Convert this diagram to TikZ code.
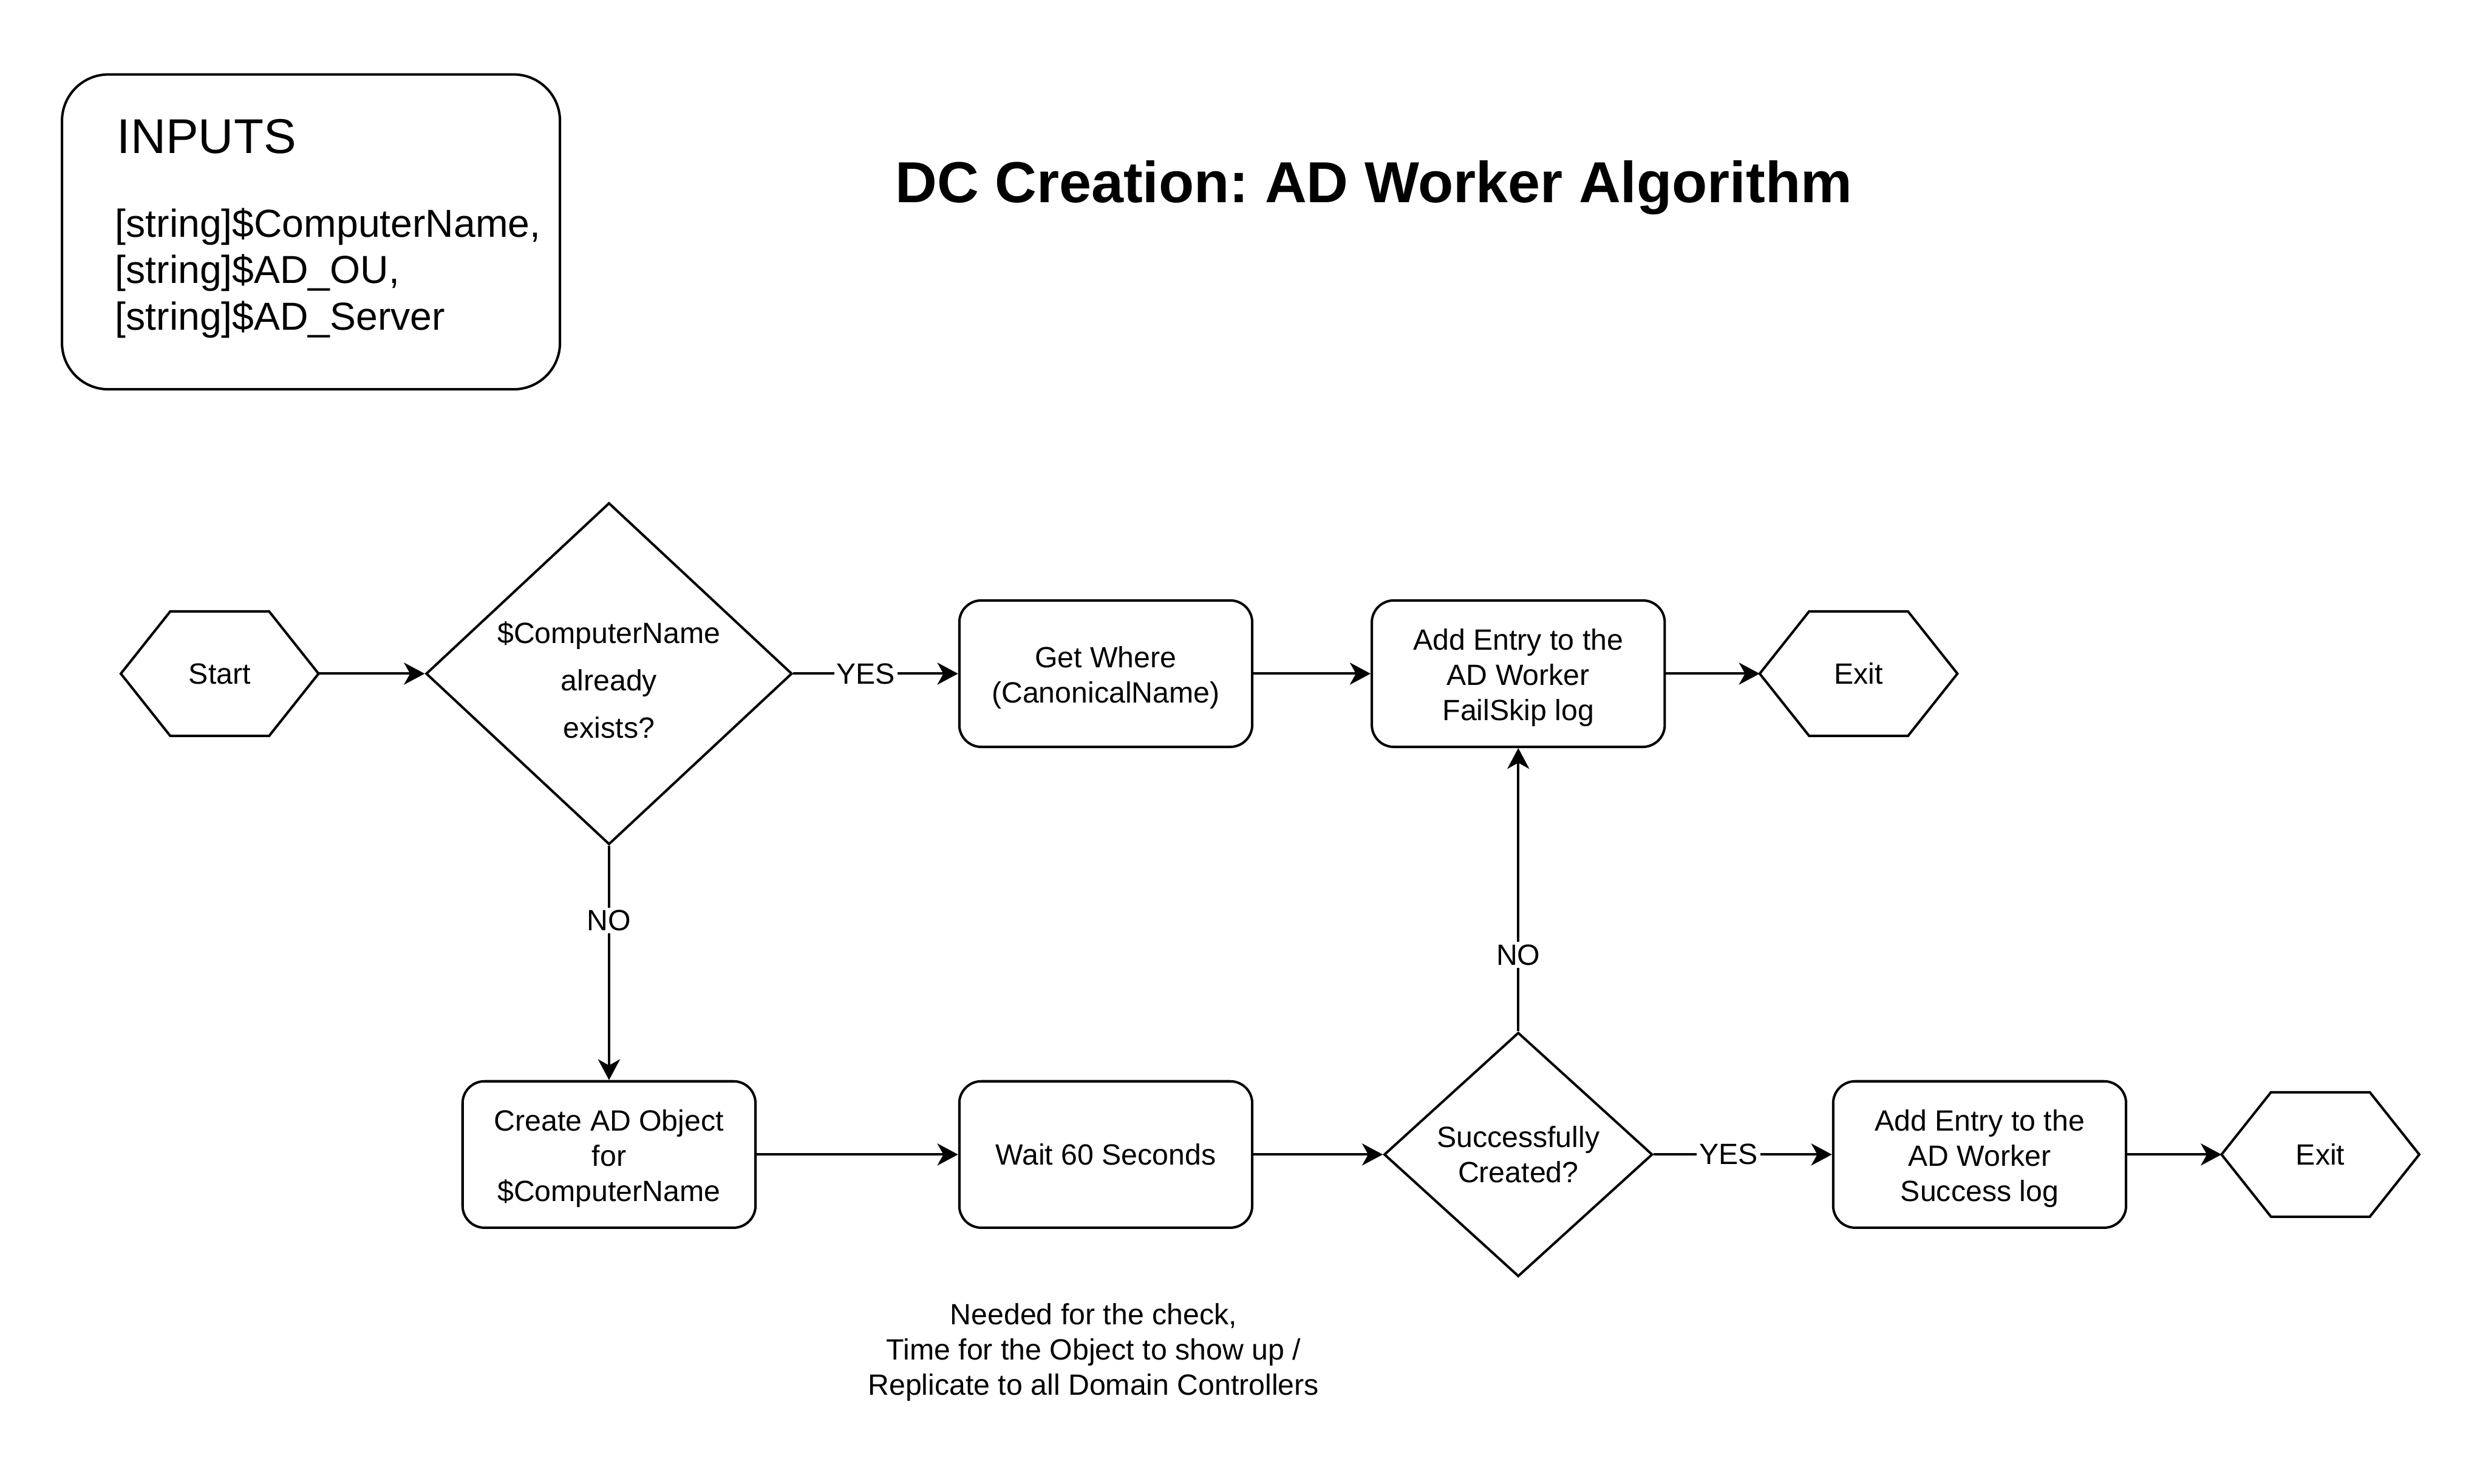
\documentclass[tikz,border=0pt]{standalone}
\usepackage{fontspec}
\setmainfont{Liberation Sans}
\frenchspacing
\usetikzlibrary{arrows.meta, positioning, shapes.geometric, calc}

% invisible rule that pushes the first line of a node down
\newcommand{\textlift}[1][12pt]{\rule{0pt}{#1}}

\tikzset{
  stepbox/.style={draw, rounded corners=9pt, minimum width=120pt, minimum height=60pt, align=center, inner sep=2pt},
  decision/.style={draw, diamond, inner sep=0pt, align=center},
  terminal/.style={minimum width=80pt, minimum height=50pt, inner sep=0pt},
  panel/.style={draw, rounded corners=19pt, minimum width=204pt, minimum height=129pt},
  answer/.style={fill=white, inner sep=1pt}
}

\begin{document}
\begin{tikzpicture}[x=1pt, y=-1pt, line width=1pt, font=\fontsize{12}{14.4}\selectfont,
    >={Stealth[length=8.5pt, width=9pt, inset=2.5pt]}]
  \useasboundingbox (0,0) rectangle (1016,608);

  % inputs and title
  \node (inputs) [panel] at (127.4,95) {};
  \node (inputshead) [anchor=base west, inner sep=0pt, font=\fontsize{20}{24}\selectfont] at (47.5,62.9) {INPUTS};
  \node (inputslist) [anchor=north west, inner sep=0pt, align=left, font=\fontsize{16}{19}\selectfont] at (46.7,84.8)
    {{[}string]\$ComputerName,\\ {[}string]\$AD\_OU,\\ {[}string]\$AD\_Server};
  \node (title) [anchor=base, font=\fontsize{23.7}{28.4}\selectfont\bfseries] at (562.8,83) {DC Creation: AD Worker Algorithm};

  % upper row
  \node (start) [terminal] at (90,276) {Start};
  \node (exists) [decision, inner sep=-4pt, minimum width=150pt, minimum height=140pt] at (249.5,276)
    {\textlift[13.9pt]\$ComputerName\\[5pt] already\\[5pt] exists?};
  \node (getwhere) [stepbox] at (453,276) {\textlift Get Where\\ (CanonicalName)};
  \node (failskip) [stepbox] at (622,276) {\textlift Add Entry to the\\ AD Worker\\ FailSkip log};
  \node (exitfail) [terminal] at (761.4,276) {Exit};

  % lower row
  \node (createobj) [stepbox] at (249.5,473) {\textlift Create AD Object\\ for\\ \$ComputerName};
  \node (waitsec) [stepbox] at (453,473) {Wait 60 Seconds};
  \node (created) [decision, minimum width=110pt, minimum height=100pt] at (622,473)
    {Successfully\\ Created?};
  \node (successlog) [stepbox] at (811,473) {\textlift Add Entry to the\\ AD Worker\\ Success log};
  \node (exitok) [terminal] at (950.6,473) {Exit};

  \node (waitnote) [align=center] at (448,554)
    {Needed for the check,\\ Time for the Object to show up /\\ Replicate to all Domain Controllers};

  % hexagons
  \foreach \n in {start, exitfail, exitok}
    \draw ($(\n.north west)!.25!(\n.north east)$) -- ($(\n.north west)!.75!(\n.north east)$)
      -- (\n.east) -- ($(\n.south west)!.75!(\n.south east)$)
      -- ($(\n.south west)!.25!(\n.south east)$) -- (\n.west) -- cycle;

  % connectors
  \draw[->] (start.east) -- (exists.west);
  \draw[->] (exists.east) -- node[answer, pos=.44] {YES} (getwhere.west);
  \draw[->] (getwhere) -- (failskip);
  \draw[->] (failskip.east) -- (exitfail.west);
  \draw[->] (exists.south) -- node[answer, pos=.32] {NO} (createobj.north);
  \draw[->] (createobj) -- (waitsec);
  \draw[->] (waitsec) -- (created.west);
  \draw[->] (created.north) -- node[answer, pos=.27] {NO} (failskip.south);
  \draw[->] (created.east) -- node[answer, pos=.42] {YES} (successlog.west);
  \draw[->] (successlog.east) -- (exitok.west);
\end{tikzpicture}
\end{document}
